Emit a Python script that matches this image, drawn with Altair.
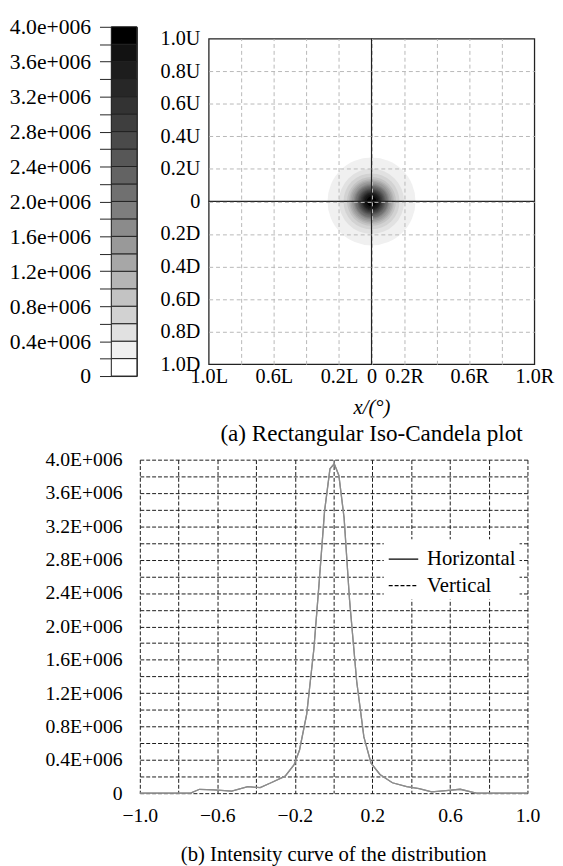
import altair as alt
import pandas as pd

# ---------------- data ----------------
# colour bar bands (cd)
cb_low = [0, 200000, 400000, 600000, 800000, 1000000, 1200000, 1400000, 1600000, 1800000,
          2000000, 2200000, 2400000, 2600000, 2800000, 3000000, 3200000, 3400000, 3600000, 3800000]
cb_high = [200000, 400000, 600000, 800000, 1000000, 1200000, 1400000, 1600000, 1800000, 2000000,
           2200000, 2400000, 2600000, 2800000, 3000000, 3200000, 3400000, 3600000, 3800000, 4000000]
cb_ticks = [0] + cb_high

# iso-candela contours: threshold level and its radius (deg)
iso_level = [200000, 400000, 600000, 800000, 1000000, 1200000, 1400000, 1600000, 1800000, 2000000,
             2200000, 2400000, 2600000, 2800000, 3000000, 3200000, 3400000, 3600000, 3800000]
iso_radius = [0.27, 0.20, 0.172, 0.15, 0.138, 0.129, 0.12, 0.11, 0.103, 0.097,
              0.088, 0.081, 0.075, 0.068, 0.062, 0.056, 0.05, 0.041, 0.03]

top_ticks = [-1.0, -0.8, -0.6, -0.4, -0.2, 0.0, 0.2, 0.4, 0.6, 0.8, 1.0]

# intensity curves
curve_x = [-1.0, -0.738, -0.692, -0.618, -0.526, -0.443, -0.379, -0.323, -0.250, -0.204, -0.176,
           -0.139, -0.102, -0.075, -0.047, -0.019, 0.003, 0.027, 0.054, 0.082, 0.119, 0.156,
           0.193, 0.239, 0.303, 0.377, 0.441, 0.506, 0.580, 0.653, 0.709, 0.736, 1.0]
horizontal = [0, 0, 47000, 40000, 24000, 78000, 67000, 125000, 204000, 341000, 518000,
              949000, 1730000, 2520000, 3380000, 3890000, 3950000, 3810000, 3300000, 2320000, 1340000, 675000,
              361000, 224000, 125000, 78000, 55000, 16000, 31000, 47000, 16000, 0, 0]
vertical = [0, 0, 47000, 40000, 24000, 78000, 67000, 125000, 204000, 341000, 518000,
            949000, 1730000, 2520000, 3380000, 3890000, 3950000, 3810000, 3300000, 2320000, 1340000, 675000,
            361000, 224000, 125000, 78000, 55000, 16000, 31000, 47000, 16000, 0, 0]
bot_x_ticks = [-1.0, -0.8, -0.6, -0.4, -0.2, 0.0, 0.2, 0.4, 0.6, 0.8, 1.0]
bot_y_ticks = cb_ticks

FONT = "Liberation Serif"
grey_scale = alt.Scale(domain=[0, 3800000], range=["#ffffff", "#000000"])

# ---------------- colour bar ----------------
cb_df = pd.DataFrame({"lo": cb_low, "hi": cb_high})
colorbar = alt.Chart(cb_df).mark_rect(stroke="#222222", strokeWidth=1).encode(
    y=alt.Y("lo:Q", scale=alt.Scale(domain=[0, 4000000], nice=False, zero=False),
            axis=alt.Axis(values=cb_ticks, title=None, grid=False, domain=False,
                          tickSize=12, tickColor="#222222", tickWidth=1,
                          labelExpr="round(datum.value/100000) % 4 == 0 ? (datum.value == 0 ? '0' : format(datum.value/1000000, '.1f') + 'e+006') : ''",
                          labelPadding=9, labelFont=FONT, labelFontSize=22, labelColor="black")),
    y2="hi:Q",
    color=alt.Color("lo:Q", scale=grey_scale, legend=None),
).properties(width=26, height=355, view=alt.ViewBackground(stroke="#222222", strokeWidth=1))

# ---------------- iso-candela plot ----------------
W = 331
iso_df = pd.DataFrame({"level": iso_level, "r": iso_radius})
blob = alt.Chart(iso_df).mark_arc(theta=0, theta2=6.2832, strokeWidth=0).encode(
    radius=alt.Radius("r:Q", stack=False,
                      scale=alt.Scale(type="linear", domain=[0, 1], range=[0, W / 2], zero=True)),
    color=alt.Color("level:Q", scale=grey_scale, legend=None),
)

grid_op = {"condition": {"test": "abs(datum.value) > 0.99", "value": 0}, "value": 1}
xaxis_top = alt.Axis(values=top_ticks, grid=True, gridColor="#b8b8b8", gridDash=[4, 3], gridWidth=1,
                     gridOpacity=grid_op, domain=False, ticks=False, zindex=1, labelFlush=False,
                     labelExpr="datum.value == 0 ? '0' : (abs(round(datum.value*10)) % 4 == 2 ? format(abs(datum.value), '.1f') + (datum.value < 0 ? 'L' : 'R') : '')",
                     labelFont=FONT, labelFontSize=20.5, labelColor="black", labelPadding=3,
                     title="x/(°)", titleFont=FONT, titleFontSize=21, titleFontStyle="italic",
                     titleFontWeight="normal", titleColor="black", titlePadding=10)
yaxis_top = alt.Axis(values=top_ticks, grid=True, gridColor="#b8b8b8", gridDash=[4, 3], gridWidth=1,
                     gridOpacity=grid_op, domain=False, ticks=False, zindex=1,
                     labelExpr="datum.value == 0 ? '0' : format(abs(datum.value), '.1f') + (datum.value > 0 ? 'U' : 'D')",
                     labelFont=FONT, labelFontSize=20.5, labelColor="black", labelPadding=9, title=None)

vrule = alt.Chart(pd.DataFrame({"v": [0.0]})).mark_rule(color="#222222", strokeWidth=1.2).encode(
    x=alt.X("v:Q", scale=alt.Scale(domain=[-1, 1], nice=False, zero=False), axis=xaxis_top))
hrule = alt.Chart(pd.DataFrame({"h": [0.0]})).mark_rule(color="#222222", strokeWidth=1.2).encode(
    y=alt.Y("h:Q", scale=alt.Scale(domain=[-1, 1], nice=False, zero=False), axis=yaxis_top))

top_plot = alt.layer(blob, vrule, hrule).properties(
    width=W, height=W,
    view=alt.ViewBackground(stroke="#222222", strokeWidth=1.3),
    title=alt.TitleParams("(a) Rectangular Iso-Candela plot", orient="bottom", anchor="middle",
                          font=FONT, fontSize=23.5, fontWeight="normal", color="black", offset=5),
)

top_row = alt.hconcat(colorbar, top_plot, spacing=73, bounds="flush", center=True)

# ---------------- intensity curve ----------------
curve_df = pd.concat([
    pd.DataFrame({"x": curve_x, "I": horizontal, "dir": "Horizontal", "k": list(range(len(curve_x)))}),
    pd.DataFrame({"x": curve_x, "I": vertical, "dir": "Vertical", "k": list(range(len(curve_x)))}),
])

bot_grid = dict(grid=True, gridColor="#1a1a1a", gridDash=[4, 2], gridWidth=1, domain=False, ticks=False,
                labelFont=FONT, labelFontSize=20, labelColor="black", title=None)

xenc = alt.X("x:Q", scale=alt.Scale(domain=[-1, 1], nice=False, zero=False),
             axis=alt.Axis(values=bot_x_ticks, labelPadding=13, labelFlush=False,
                           labelExpr="abs(round(datum.value*10)) % 4 == 2 ? (datum.value < 0 ? '\u2212' : '') + format(abs(datum.value), '.1f') : ''",
                           **bot_grid))
yenc = alt.Y("I:Q", scale=alt.Scale(domain=[0, 4000000], nice=False),
             axis=alt.Axis(values=bot_y_ticks, labelPadding=18,
                           labelExpr="round(datum.value/100000) % 4 == 0 ? (datum.value == 0 ? '0' : format(datum.value/1000000, '.1f') + 'E+006') : ''",
                           **bot_grid))

curves = alt.Chart(curve_df).mark_line(color="#8c8c8c", strokeWidth=1.3).encode(
    x=xenc, y=yenc, detail="dir:N", order="k:Q")

# legend layer (draws no line itself; only supplies the black legend keys)
legend_layer = alt.Chart(curve_df).transform_filter("false").mark_line(color="black", strokeWidth=1.2).encode(
    x=xenc, y=yenc, order="k:Q",
    strokeDash=alt.StrokeDash("dir:N", scale=alt.Scale(domain=["Horizontal", "Vertical"], range=[[1, 0], [4, 2]]),
                              legend=alt.Legend(orient="none", legendX=248, legendY=81, title=None,
                                                fillColor="white", padding=4, symbolType="stroke",
                                                symbolSize=900, symbolStrokeColor="black", symbolStrokeWidth=1.2,
                                                labelFont=FONT, labelFontSize=21, labelColor="black",
                                                rowPadding=1, labelOffset=8)),
)

bottom_plot = alt.layer(curves, legend_layer).properties(
    width=394, height=339,
    view=alt.ViewBackground(stroke=None),
    title=alt.TitleParams("(b) Intensity curve of the distribution", orient="bottom", anchor="middle",
                          font=FONT, fontSize=21, fontWeight="normal", color="black", offset=19),
)

spacer = alt.Chart(pd.DataFrame({"s": [0]})).mark_point(opacity=0).properties(
    width=1, height=1, view=alt.ViewBackground(stroke=None))

bottom_row = alt.hconcat(spacer, bottom_plot, spacing=28, bounds="flush").resolve_legend(strokeDash="independent")

chart = alt.vconcat(top_row, bottom_row, spacing=3).resolve_legend(strokeDash="independent").properties(
    padding={"left": 0, "top": 0, "right": 0, "bottom": 0}
).configure(font=FONT).configure_view(stroke=None)

chart.save("out.html", embed_options={"renderer": "svg", "actions": False})
